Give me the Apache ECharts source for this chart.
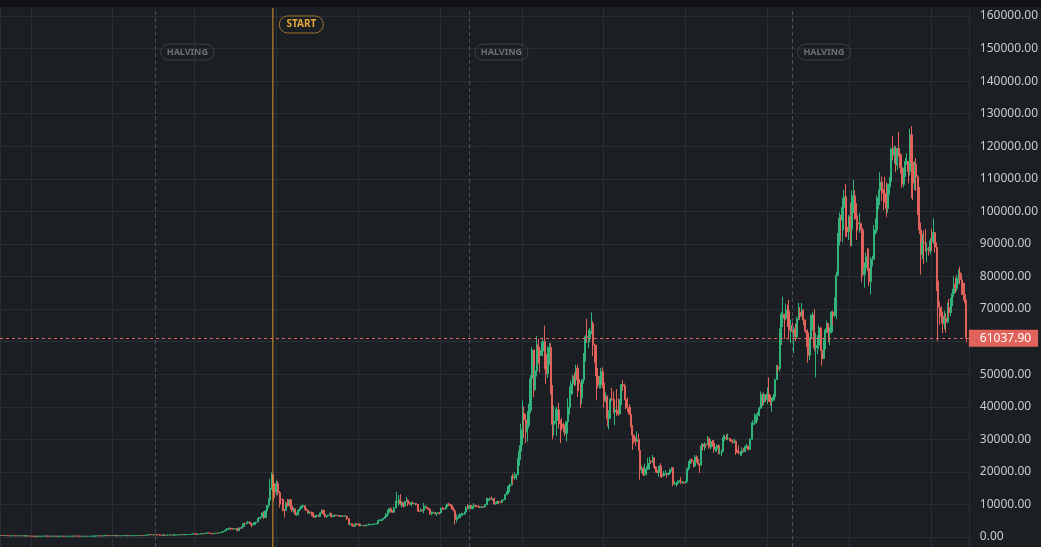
<!DOCTYPE html>
<html>
<head>
<meta charset="utf-8">
<script src="https://cdn.jsdelivr.net/npm/echarts@6/dist/echarts.min.js"></script>
<style>
  html, body { margin: 0; padding: 0; background: #111214; }
  #chart { position: absolute; left: 0; top: 7px; width: 1041px; height: 540px; background: #1b1e22; }
</style>
</head>
<body>
<div id="chart"></div>
<script>
// weekly candles, each week is [close, high, low]; open = previous close
const firstOpen = 500;
const weekStarts = ['2014-08-18', '2015-01-05', '2016-01-04', '2017-01-02', '2018-01-01', '2019-01-07',
  '2020-01-06', '2021-01-04', '2022-01-03', '2023-01-02', '2024-01-01', '2025-01-06', '2026-01-05'];

const w2014 = [[505,520,490],[478,515,470],[475,490,465],[475,485,460],[405,480,395],[400,440,380],[375,410,330],
  [378,400,290],[390,410,370],[358,390,345],[325,360,320],[370,460,325],[395,450,360],[375,400,350],[375,385,360],
  [350,385,345],[350,360,340],[315,355,305],[320,335,310],[275,325,265]];
const w2015 = [[265,290,255],[210,270,170],[250,260,200],[225,310,215],
  [225,240,210],[235,245,215],[245,260,230],[255,265,235],
  [275,290,250],[285,300,265],[260,295,255],[245,270,240],[245,260,235],
  [255,260,240],[225,260,220],[235,240,215],[225,240,215],
  [240,245,225],[240,245,233],[240,245,230],[230,240,225],
  [225,235,220],[230,235,220],[245,255,225],[245,250,240],[260,265,240],
  [290,310,255],[275,295,270],[290,295,270],[280,295,275],
  [265,285,260],[230,270,200],[230,240,210],[230,235,225],[240,245,225],
  [230,245,225],[230,235,225],[235,240,230],[240,245,235],
  [265,270,240],[285,290,260],[325,330,280],[375,500,320],
  [330,390,310],[325,340,310],[360,375,320],[400,420,355],[460,470,390],
  [440,465,410],[420,450,410],[440,450,415],[430,440,420]];
const w2016 = [[450,460,425],[385,455,360],[385,410,370],[375,395,365],
  [375,380,365],[380,385,370],[420,425,380],[435,445,415],[410,440,400],
  [415,420,405],[410,420,405],[415,420,410],[420,425,410],
  [425,430,415],[425,430,420],[450,455,425],[460,470,445],
  [450,465,445],[455,460,445],[440,455,435],[525,530,440],[575,590,520],
  [690,700,570],[760,780,680],[660,770,550],[700,705,620],
  [650,705,630],[665,675,645],[660,670,645],[625,660,620],
  [590,630,480],[570,600,565],[580,590,565],[570,585,565],[605,610,570],
  [605,615,600],[610,615,600],[600,610,595],[615,620,600],
  [620,625,610],[640,645,615],[655,660,635],[700,720,650],[710,740,690],
  [700,715,690],[730,750,690],[735,760,725],[765,775,730],
  [770,780,760],[790,800,775],[890,930,790],[998,1000,880]];
const w2017 = [[900,1160,880],[830,920,750],[920,930,820],[920,930,880],[1020,1040,910],[1000,1070,950],
  [1050,1060,990],[1180,1200,1040],[1270,1290,1170],[1230,1330,1130],[1020,1260,950],[970,1070,890],
  [1080,1100,930],[1190,1210,1070],[1180,1210,1160],[1240,1250,1170],[1350,1360,1230],[1560,1620,1340],
  [1770,1800,1550],[2050,2100,1740],[2200,2760,1920],[2500,2570,2150],[2680,2980,2480],[2550,2800,2150],
  [2500,2760,2450],[2500,2600,2300],[2550,2650,2480],[1930,2560,1840],[2750,2950,1900],[2720,2850,2450],
  [3200,3300,2650],[4100,4200,3200],[4050,4480,3850],[4350,4400,3950],[4600,4980,4300],[4150,4700,3970],
  [3700,4400,2980],[3800,4100,3550],[4400,4450,3750],[4600,4650,4150],[5700,5850,4550],[6000,6150,5150],
  [6150,6200,5400],[7400,7600,6100],[5950,7900,5500],[8000,8100,5800],[9700,9800,7900],[11300,11900,9000],
  [15000,17900,11200],[19100,19800,14500],[14000,19000,11000],[13800,16500,12000]];
const w2018 = [[16400,17400,12800],[13600,17200,12800],[11600,14100,9000],[11500,12000,10000],[8200,11800,7900],
  [8100,8600,6000],[10300,10900,8000],[9600,11700,9300],[11400,11500,9400],[9500,11700,8400],[8200,9800,7600],
  [8600,9100,7500],[6900,8700,6600],[7000,7500,6450],[8300,8400,6600],[8900,9000,7900],[9400,9700,8600],
  [9600,9950,9000],[8700,9650,8400],[8200,8800,7950],[7400,8500,7100],[7700,7800,7000],[7500,7800,7400],
  [6500,7600,6300],[6100,6800,5800],[6600,6700,5800],[6700,6800,6100],[6300,6800,6100],[7400,7600,6300],
  [8200,8500,7300],[7000,8200,6900],[6300,7200,5900],[6500,6600,5900],[6700,6900,6300],[7300,7400,6650],
  [6200,7400,6100],[6500,6600,6200],[6700,6800,6200],[6600,6800,6450],[6600,6700,6450],[6300,6700,6100],
  [6500,6600,6400],[6400,6500,6350],[6400,6500,6250],[6400,6600,6300],[5600,6500,5200],[4000,5600,3800],
  [4100,4400,3500],[3600,4150,3300],[3250,3600,3200],[4000,4200,3200],[3850,4100,3600],[4000,4100,3700]];
const w2019 = [[3500,4100,3450],[3550,3700,3450],[3550,3650,3500],[3400,3600,3350],[3650,3700,3400],
  [3650,3700,3550],[3800,4200,3650],[3800,3850,3700],[3900,3950,3700],[4000,4050,3850],[4000,4100,3950],
  [4100,4150,3950],[5050,5300,4100],[5050,5450,4900],[5300,5400,4950],[5750,5850,5100],[6250,6350,5700],
  [6950,7350,5700],[8000,8400,6200],[8700,8900,7500],[8000,9100,7500],[7600,8100,7450],[8900,9300,7500],
  [10600,11200,8900],[10800,13900,10400],[11400,12900,9600],[10200,13200,9800],[10500,11000,9100],
  [9500,10600,9100],[10900,11000,9400],[11300,12300,10800],[10300,11500,9500],[10100,10900,9800],
  [10400,10800,9400],[10300,10900,10100],[10300,10400,9900],[10000,10300,9700],[8000,10000,7800],
  [7900,8500,7800],[8300,8800,7900],[8230,8400,7900],[9200,10500,7300],[9200,9800,8900],[8800,9400,8700],
  [8500,8900,8350],[7200,8600,6800],[7400,7800,6600],[7500,7800,7200],[7100,7600,7000],[7200,7500,6450],
  [7400,7600,7100],[7350,7600,6900]];
const w2020 = [[8900,8950,7350],[8700,9200,8500],[8600,8750,8300],[9300,9600,8500],[10150,10200,9200],
  [9900,10500,9600],[9700,10200,9300],[8500,9900,8400],[8000,9200,7900],[5400,8200,3800],[5800,6900,4500],
  [5900,6900,5700],[6800,7300,5900],[6900,7500,6500],[7100,7300,6600],[7700,7800,6800],[8900,9500,7600],
  [8700,10000,8500],[9700,9900,8200],[8700,9900,8700],[9450,9600,8600],[9700,10400,9300],[9350,9950,9100],
  [9300,9800,9200],[9000,9800,8900],[9100,9300,8950],[9250,9450,9100],[9200,9300,9000],[9900,10000,9150],
  [11100,12100,9800],[11700,12000,11000],[11900,12100,11200],[11650,12450,11400],[11700,11800,11100],
  [10250,12100,9900],[10300,10700,9900],[10900,11200,10200],[10750,10800,10150],[10650,10950,10400],
  [11350,11500,10500],[11500,11700,11200],[13000,13300,11400],[13800,14000,12900],[15500,15900,13200],
  [16000,16400,14800],[18700,18800,15900],[18200,19500,16200],[19000,19900,17600],[19100,19400,17600],
  [23800,24300,19000],[26400,28200,21900],[33000,34800,26000]];
const w2021 = [[38000,41900,28200],[36000,40100,30400],[32300,37800,28800],[34300,38600,29300],[38900,40900,33400],
  [48600,49700,38000],[57400,58300,47000],[45200,57500,43000],[51000,52600,44900],[59000,61800,49300],
  [57400,60900,53300],[55800,58400,50400],[57100,60000,55700],[60000,61200,55500],[56200,64900,51500],
  [50100,57000,47000],[56600,58500,48800],[58200,59600,52900],[46400,59500,43800],[34600,46700,30000],
  [35600,40400,31100],[35800,39400,34900],[39100,40000,31000],[35600,41300,33300],[34700,36000,28800],
  [34200,36600,32700],[33500,35100,32100],[31800,34600,31000],[35400,35500,29300],[39800,42600,34500],
  [43800,46200,37600],[47100,48100,43000],[49300,49800,43900],[48900,50500,46300],[51800,52900,46500],
  [48300,52900,43000],[47300,48800,44800],[42700,47400,39700],[48200,48500,40800],[54700,56500,47100],
  [61500,62000,53900],[61300,67000,59600],[61300,63700,58000],[63300,64200,59900],[65500,69000,62300],
  [59000,66300,55600],[57300,59300,53500],[49400,59000,42000],[46700,51900,45700],[46700,49500,45600],
  [50800,51900,45600],[47300,52100,45700]];
const w2022 = [[41800,47500,39700],[43100,44400,41300],[36300,43500,34000],[38200,38900,33000],[42400,42700,36300],
  [42200,45800,41700],[38400,44700,38000],[39000,39800,34300],[38900,45400,37200],[37800,42600,37200],
  [41300,42300,37600],[46800,47000,40500],[46400,48200,44900],[42200,47100,42000],[39700,41500,39300],
  [39500,42900,38500],[37700,40800,37600],[34300,40000,33700],[31300,34300,26700],[29500,31300,28700],
  [29400,30600,28000],[29900,32400,29300],[26600,31700,26600],[20600,26900,17600],[21000,21900,19600],
  [19300,21500,18700],[20800,22500,18800],[20800,21600,18900],[22600,24300,20700],[23300,24600,20700],
  [23200,23600,22400],[24300,25200,22700],[21500,24400,20800],[20000,21800,19800],[19800,20600,19600],
  [21800,21900,18500],[19400,22700,18300],[18800,19600,18100],[19300,20300,18500],[19400,20500,19100],
  [19200,19600,18200],[19600,19700,18900],[20600,21000,19200],[21300,21500,20100],[16300,21500,15600],
  [16300,17200,16000],[16500,16800,15500],[17100,17400,16000],[17100,17500,16700],[16800,18400,16300],
  [16800,17100,16300],[16600,16900,16400]];
const w2023 = [[17100,17200,16500],[20900,21300,17200],[22700,23300,20400],[23700,23900,22300],[23300,24200,22600],
  [21800,23400,21400],[24600,25200,21500],[23200,25100,22800],[22400,23900,21900],[22100,22600,19600],
  [28000,28800,21900],[27800,28800,26600],[28500,29100,26500],[28300,28600,27200],[30300,31000,28200],
  [27600,30500,27100],[29200,30000,26900],[28900,29800,27700],[26900,29800,25800],[27100,27700,26300],
  [28100,28400,26100],[25900,28400,25400],[25900,27400,25400],[26300,26800,24800],[30500,31400,26300],
  [30600,31300,29500],[30300,31500,29800],[30300,31800,29700],[29900,30400,29500],[29300,30000,29100],
  [29100,30000,28600],[29400,30200,28800],[26100,29700,25200],[26000,26800,25800],[25800,28100,25400],
  [25800,26400,24900],[26500,27500,25000],[26300,27400,26000],[27900,28000,26000],[27900,28600,27200],
  [26900,28000,26600],[30000,30300,26900],[34500,35200,29900],[35000,35900,33900],[37100,38000,34500],
  [37400,37900,34800],[37800,38400,35700],[39500,40000,37100],[43800,44700,39500],[41400,44100,40200],
  [43700,44400,40500],[42300,43700,41500]];
const w2024 = [[43900,45900,40800],[41700,49000,41500],[41600,43600,40300],[42000,42800,38500],[43000,43900,41900],
  [48300,48600,42500],[52100,52800,48400],[51700,52900,50600],[63100,64000,50900],[68400,69200,59000],
  [68400,73800,64500],[67200,68100,60800],[69700,71700,66600],[69400,71300,64500],[63500,72800,60700],
  [64900,66800,59600],[63100,67200,62400],[63900,64700,56500],[61500,65500,60200],[67000,67700,60800],
  [69000,71900,66600],[67800,70600,66700],[69600,71900,68500],[66600,70000,65000],[63200,66900,63200],
  [62700,63400,58400],[55800,63800,53500],[60800,61300,54300],[68100,68400,59600],[68200,69000,63500],
  [58100,70000,57200],[58700,62700,49000],[58900,62000,56100],[64200,65000,57800],[57300,64500,57200],
  [54800,59800,52600],[60000,60700,54600],[63600,64100,57600],[65600,66500,62700],[62800,65600,59800],
  [63000,64400,58900],[69000,69400,62500],[68000,69500,65100],[69400,73600,67500],[80400,81500,66900],
  [90600,93400,80200],[97900,99600,89500],[97300,98900,90800],[101200,104000,90500],[104500,106600,94200],
  [95200,108400,92200],[93700,99900,92100],[98300,98900,91200]];
const w2025 = [[94500,102700,89300],[101100,106400,89300],[104800,109600,99500],[97700,106500,97400],
  [96500,102500,91200],[96200,98800,94100],[96300,99500,93400],[94300,96500,78200],[80700,95000,80000],
  [82600,84300,76600],[86100,87400,81200],[82500,88800,81600],[78400,88500,77100],[83700,86000,74500],
  [85300,86400,83100],[93700,95800,85100],[94300,97900,92800],[104200,104900,93400],[106500,106700,100700],
  [109000,112000,102000],[105700,110700,103100],[105600,106800,100400],[105500,110600,102700],
  [100900,108900,98200],[108400,108500,99600],[109200,110600,105100],[119100,119500,107400],
  [117300,123200,115700],[119400,120200,114700],[114200,120000,112000],[119300,119400,112700],
  [117500,124500,116800],[113500,117700,111700],[108300,113500,107300],[111100,113400,107300],
  [115300,116400,110600],[115300,117900,114400],[112200,113300,108600],[123500,125400,111000],
  [115100,126200,104000],[108600,115900,103500],[114500,115400,106600],[110600,116400,106300],
  [104700,111200,98900],[94300,107500,93000],[86800,96600,80600],[90400,93100,85300],[90200,94100,83800],
  [88200,94600,87600],[88500,90400,84400],[87800,89100,86400],[91000,91800,86800]];
const w2026 = [[90600,94700,87800],[93500,97900,90000],[89000,93500,87300],[78600,90500,75500],[70500,79300,60100],
  [68800,72300,65100],[67800,70800,65700],[65500,69200,62600],[67200,69500,63800],[66000,68700,62800],
  [70500,72000,65600],[68900,73100,67500],[72000,73500,67800],[74800,76200,70900],[77500,80100,73800],
  [76300,79600,74900],[79400,80500,75500],[81200,82200,77800],[79000,83000,77600],[76200,80900,74300],
  [74500,78100,72600],[72600,78000,71800],[61037.9,72900,59800]];

const yearWeeks = [w2014, w2015, w2016, w2017, w2018, w2019, w2020, w2021, w2022, w2023, w2024, w2025, w2026];

const halvings = ['2016-07-09', '2020-05-11', '2024-04-20'];
const startDate = '2017-12-16T05:00:00Z';
const halvingLabelY = 148900;
const startLabelY = 157400;

const Y_MIN = -3071;
const Y_MAX = 162457;
const UP = '#32b37b';
const DOWN = '#e0625a';
const GRID = '#2a2d33';
const START_COLOR = '#d89a2c';
const DAY = 86400000;

const candles = [];
let prev = firstOpen;
yearWeeks.forEach((weeks, i) => {
  const t0 = Date.parse(weekStarts[i]);
  weeks.forEach(([c, h, l], j) => {
    candles.push([t0 + j * 7 * DAY, prev, c, l, h]);
    prev = c;
  });
});
const lastClose = candles[candles.length - 1][2];
const startT = Date.parse(startDate);

const chart = echarts.init(document.getElementById('chart'));

chart.setOption({
  animation: false,
  backgroundColor: 'transparent',
  grid: { left: 0, right: 70, top: 1, bottom: 0 },
  xAxis: {
    type: 'time',
    min: Date.parse('2014-08-16'),
    max: Date.parse('2026-06-19'),
    minInterval: 365 * DAY,
    maxInterval: 366 * DAY,
    axisLine: { show: false },
    axisTick: { show: false },
    axisLabel: { show: false },
    splitLine: { show: true, lineStyle: { color: GRID, width: 1 } }
  },
  yAxis: {
    type: 'value',
    position: 'right',
    min: Y_MIN,
    max: Y_MAX,
    minInterval: 10000,
    maxInterval: 10000,
    splitNumber: 16,
    axisLine: { show: true, lineStyle: { color: GRID } },
    axisTick: { show: false },
    axisLabel: {
      color: '#c8ccd1',
      fontSize: 12,
      fontFamily: 'Noto Sans',
      margin: 11,
      showMinLabel: false,
      showMaxLabel: false,
      formatter: v => v.toFixed(2)
    },
    splitLine: { show: true, showMinLine: false, showMaxLine: false, lineStyle: { color: GRID } }
  },
  series: [
    {
      type: 'candlestick',
      large: false,
      barWidth: 1.6,
      data: candles,
      encode: { x: 0, y: [1, 2, 3, 4] },
      itemStyle: { color: UP, color0: DOWN, borderColor: UP, borderColor0: DOWN, borderWidth: 1 },
      markLine: {
        symbol: 'none',
        silent: true,
        animation: false,
        label: { show: false },
        data: [
          ...halvings.map(d => ({ xAxis: Date.parse(d), lineStyle: { color: '#4c4f55', type: [4, 3], width: 1 } })),
          {
            yAxis: lastClose,
            lineStyle: { color: DOWN, type: [3, 3], width: 1 },
            label: {
              show: true,
              position: 'end',
              distance: 0,
              formatter: p => p.value.toFixed(2),
              color: '#ffffff',
              fontSize: 12,
              fontFamily: 'Noto Sans',
              backgroundColor: DOWN,
              padding: [3, 7, 2, 11]
            }
          }
        ]
      },
      markPoint: {
        symbol: 'circle',
        symbolSize: 1,
        silent: true,
        animation: false,
        itemStyle: { color: 'rgba(0,0,0,0)' },
        data: [
          ...halvings.map(d => ({
            coord: [Date.parse(d), halvingLabelY],
            label: {
              show: true, position: 'right', distance: 5, formatter: 'HALVING',
              color: '#6d7178', fontSize: 9, fontWeight: 'bold', fontFamily: 'Noto Sans',
              borderColor: '#3d4046', borderWidth: 1, borderRadius: 8, padding: [3, 6], lineHeight: 10
            }
          })),
          {
            coord: [startT, startLabelY],
            label: {
              show: true, position: 'right', distance: 6, formatter: 'START',
              color: '#e3a83c', fontSize: 10, fontWeight: 'bold', fontFamily: 'Noto Sans',
              borderColor: '#9b7530', borderWidth: 1, borderRadius: 8, padding: [3, 7], lineHeight: 11
            }
          }
        ]
      }
    },
    {
      // START line across the whole plot
      type: 'line',
      data: [[startT, Y_MIN], [startT, Y_MAX]],
      symbol: 'none',
      silent: true,
      z: 4,
      lineStyle: { color: START_COLOR, width: 1 },
      itemStyle: { color: START_COLOR }
    }
  ]
});
</script>
</body>
</html>
